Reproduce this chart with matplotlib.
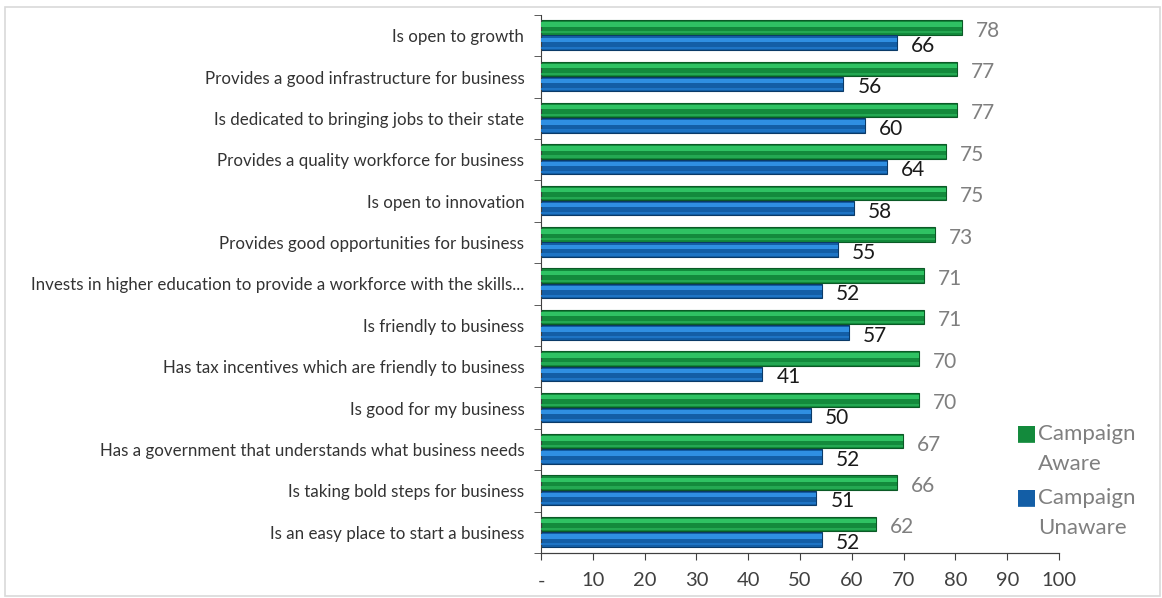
import numpy as np
import matplotlib.pyplot as plt
from matplotlib.patches import Rectangle

categories = ['Is open to growth',
              'Provides a good infrastructure for business',
              'Is dedicated to bringing jobs to their state',
              'Provides a quality workforce for business',
              'Is open to innovation',
              'Provides good opportunities for business',
              'Invests in higher education to provide a workforce with the skills...',
              'Is friendly to business',
              'Has tax incentives which are friendly to business',
              'Is good for my business',
              'Has a government that understands what business needs',
              'Is taking bold steps for business',
              'Is an easy place to start a business']
aware   = [78, 77, 77, 75, 75, 73, 71, 71, 70, 70, 67, 66, 62]
unaware = [66, 56, 60, 64, 58, 55, 52, 57, 41, 50, 52, 51, 52]
xticks  = [0, 10, 20, 30, 40, 50, 60, 70, 80, 90, 100]
xlabels = ['-'] + [str(t) for t in xticks[1:]]

plt.rcParams['font.family'] = ['Lato', 'DejaVu Sans']

fig = plt.figure(figsize=(11.62, 5.98), dpi=100)
ax  = fig.add_axes([0.4656, 0.0753, 0.4458, 0.8997])
fig.patches.append(Rectangle((0.004, 0.003), 0.994, 0.985, transform=fig.transFigure,
                             fill=False, edgecolor='#d9d9d9', lw=1.2))

# the 3D bars in the original run a bit longer than the axis scale
k = 0.9593

n  = len(categories)
y  = np.arange(n)
h  = 0.35
yg = y - 0.2
yb = y + 0.17

ax.barh(yg, aware, height=h, color='#138a3c', edgecolor='#0b5a26', lw=0.8, zorder=2)
ax.barh(yg - 0.07, aware, height=h*0.3, color='#2fc263', lw=0, zorder=3)
ax.barh(yg + 0.12, aware, height=h*0.15, color='#24a852', lw=0, zorder=3)
ax.barh(yb, unaware, height=h, color='#135ea6', edgecolor='#0b3a68', lw=0.8, zorder=2)
ax.barh(yb - 0.07, unaware, height=h*0.3, color='#2f8fe2', lw=0, zorder=3)
ax.barh(yb + 0.12, unaware, height=h*0.15, color='#1e74c4', lw=0, zorder=3)

for yy, v in zip(yg, aware):
    ax.annotate(str(v), (v, yy + 0.08), xytext=(10, 0), textcoords='offset points',
                va='center', ha='left', fontsize=15, color='#7f7f7f')
for yy, v in zip(yb, unaware):
    ax.annotate(str(v), (v, yy + 0.08), xytext=(10, 0), textcoords='offset points',
                va='center', ha='left', fontsize=15, color='#1a1a1a')

ax.set_xlim(0, 100 * k)
ax.set_ylim(n - 0.5, -0.5)
ax.set_xticks([])
ax.set_yticks(y)
ax.set_yticklabels(categories, fontsize=12.2, color='#333333')
ax.set_yticks(np.arange(-0.5, n, 1), minor=True)
ax.tick_params(axis='y', which='major', length=0, pad=12)
ax.tick_params(axis='y', which='minor', length=5, color='#404040')
for s in ['top', 'right']:
    ax.spines[s].set_visible(False)
for s in ['left', 'bottom']:
    ax.spines[s].set_color('#404040')

sec = ax.secondary_xaxis('bottom', functions=(lambda x: x / k, lambda x: x * k))
sec.set_xticks(xticks)
sec.set_xticklabels(xlabels, fontsize=14.5, color='#404040')
sec.tick_params(axis='x', length=5, color='#404040', pad=9)
sec.spines['bottom'].set_color('#404040')

# legend
fig.text(0.8834, 0.276, '\u25a0', color='#138a3c', fontsize=16, va='center', ha='center')
fig.text(0.8834, 0.169, '\u25a0', color='#135ea6', fontsize=16, va='center', ha='center')
fig.text(0.8935, 0.2905, 'Campaign\nAware', color='#7f7f7f', fontsize=16,
         ha='left', va='top', linespacing=1.62)
fig.text(0.8935, 0.1835, 'Campaign\nUnaware', color='#7f7f7f', fontsize=16,
         ha='left', va='top', linespacing=1.62)

fig.savefig('out.png', dpi=100)
